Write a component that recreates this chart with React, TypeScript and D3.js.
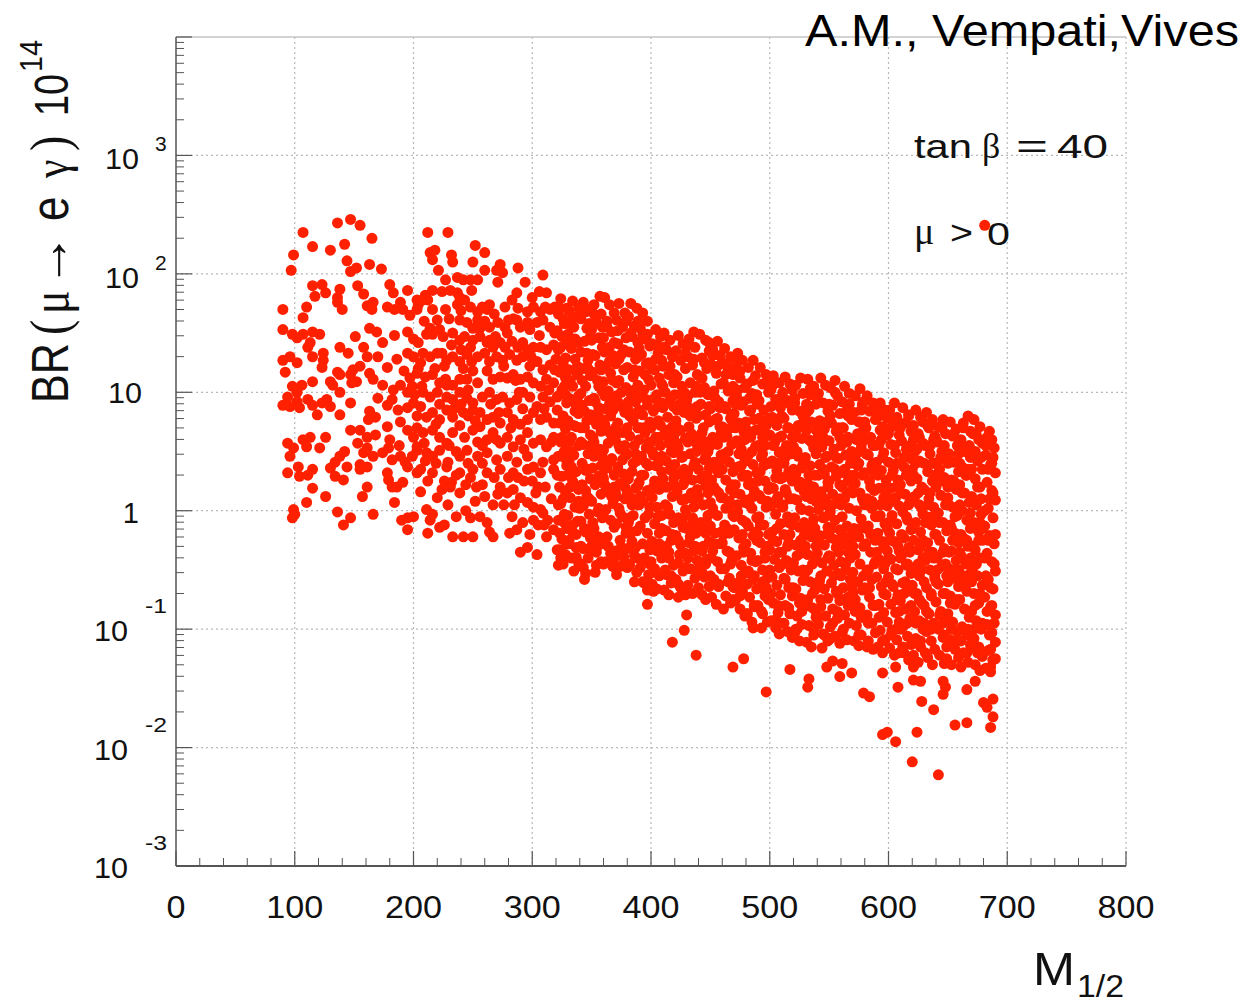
import React from "react";
import * as d3 from "d3";

type P = [number, number];

// x axis: M_1/2 ; y axis: BR(mu -> e gamma) x 10^14, log scale
// every point is stored as [M_1/2, exponent of BR (log10)]
const xTickValues = [0, 100, 200, 300, 400, 500, 600, 700, 800];
const yDecadeExps = [-3, -2, -1, 0, 1, 2, 3];

const ptsLeft: P[] = [
[136,2.43],[147,2.46],[155,2.41],[165,2.30],[107,2.35],[115,2.23],[130,2.20],[142,2.25],[99,2.16],[97,2.03],[144,2.11],[147,2.02],[152,2.05],[163,2.08],[173,2.04],[115,1.90],[123,1.91],[117,1.81],[126,1.84],[138,1.87],[136,1.80],[153,1.90],[158,1.83],[180,1.91],[183,1.84],[195,1.86],[203,1.78],[90,1.70],[110,1.72],[107,1.63],[136,1.76],[140,1.70],[161,1.73],[165,1.70],[166,1.76],[178,1.72],[184,1.70],[189,1.76],[191,1.70],[197,1.65],[203,1.70],[90,1.53],[98,1.49],[102,1.46],[107,1.49],[115,1.51],[121,1.49],[113,1.42],[111,1.38],[151,1.47],[163,1.54],[169,1.51],[174,1.42],[184,1.48],[195,1.51],[90,1.27],[96,1.30],[102,1.25],[92,1.17],[115,1.30],[124,1.33],[124,1.27],[138,1.38],[145,1.33],[158,1.38],[161,1.30],[155,1.22],[170,1.30],[178,1.21],[195,1.33],[200,1.30],[123,1.21],[136,1.17],[138,1.15],[147,1.15],[152,1.09],[149,1.19],[163,1.16],[166,1.11],[98,1.05],[102,1.00],[106,1.06],[94,0.96],[115,1.09],[130,1.09],[132,1.06],[138,1.00],[148,1.08],[174,1.06],[183,1.02],[189,1.06],[195,1.00],[199,1.05],[90,0.89],[96,0.88],[102,0.92],[104,0.87],[111,0.94],[115,0.89],[123,0.91],[127,0.94],[130,0.88],[119,0.81],[138,0.81],[147,0.91],[178,0.89],[182,0.94],[187,0.85],[195,0.87],[200,0.91],[163,0.84],[168,0.79],[189,0.75],[195,0.68],[200,0.62],[162,0.77],[147,0.68],[155,0.68],[161,0.62],[168,0.64],[178,0.71],[94,0.57],[99,0.53],[107,0.60],[113,0.62],[110,0.54],[121,0.53],[126,0.62],[138,0.46],[142,0.50],[134,0.41],[153,0.57],[158,0.49],[161,0.53],[155,0.39],[166,0.46],[174,0.49],[179,0.53],[182,0.43],[189,0.46],[193,0.41],[199,0.46],[203,0.54],[96,0.46],[94,0.32],[103,0.37],[104,0.29],[111,0.30],[115,0.35],[130,0.36],[134,0.29],[141,0.26],[144,0.37],[155,0.35],[161,0.37],[178,0.32],[179,0.26],[182,0.20],[186,0.20],[191,0.24],[195,0.37],[203,0.32],[115,0.19],[126,0.12],[157,0.12],[161,0.20],[184,0.07],[110,0.07],[99,0.01],[100,-0.03],[98,-0.06],[136,-0.01],[141,-0.12],[147,-0.06],[166,-0.03],[190,-0.08],[195,-0.06],[195,-0.16],[200,-0.05],
[186,1.28],[192,1.18],[197,1.12],[201,0.98],[204,1.20],[200,1.45],[203,0.80],[188,0.55],[180,0.60],[170,0.95]
];

const ptsMid: P[] = [
[212,2.35],[229,2.35],[214,2.18],[218,2.20],[216,2.12],[232,2.16],[233,2.10],[221,2.03],[252,2.24],[260,2.18],[250,2.10],[227,1.95],[237,1.97],[242,1.95],[248,1.95],[254,1.95],[260,2.03],[270,2.03],[273,2.08],[275,2.01],[288,2.05],[309,1.99],[271,1.93],[294,1.93],
[216,1.86],[224,1.85],[210,1.82],[212,1.78],[204,1.74],[208,1.78],[231,1.86],[237,1.84],[239,1.80],[243,1.78],[249,1.86],[227,1.70],[216,1.70],[220,1.61],[214,1.54],[211,1.49],[216,1.49],[222,1.53],[225,1.47],
[237,1.74],[240,1.69],[248,1.72],[254,1.68],[258,1.72],[262,1.70],[264,1.74],[239,1.61],[245,1.59],[254,1.61],[256,1.54],[264,1.55],[271,1.59],[277,1.55],[280,1.61],[287,1.84],[288,1.71],[296,1.68],[301,1.72],[307,1.68],[311,1.72],[315,1.70],[319,1.72],[287,1.61],[290,1.55],[296,1.59],[298,1.53],[304,1.59],[309,1.61],[315,1.55],[319,1.50],[312,1.84],
[233,1.50],[239,1.44],[243,1.47],[248,1.38],[250,1.44],[256,1.47],[262,1.42],[269,1.47],[273,1.42],[277,1.38],[283,1.43],[288,1.38],[292,1.42],[296,1.36],[301,1.38],[307,1.38],[312,1.36],[318,1.40],
[208,1.33],[214,1.30],[220,1.33],[224,1.33],[228,1.27],[233,1.30],[239,1.26],[245,1.32],[249,1.26],[254,1.30],[260,1.33],[264,1.26],[270,1.30],[275,1.27],[281,1.32],[287,1.27],[292,1.30],[298,1.22],[304,1.26],[309,1.19],[315,1.23],[319,1.19],
[203,1.16],[210,1.13],[216,1.15],[222,1.08],[227,1.11],[233,1.06],[239,1.11],[245,1.11],[254,1.08],[267,1.11],[273,1.13],[279,1.12],[284,1.15],[290,1.11],[296,1.13],[301,1.08],[307,1.05],[312,1.11],[318,1.08],
[208,1.00],[214,0.96],[220,1.00],[228,0.96],[233,0.94],[239,1.00],[245,0.95],[250,0.91],[264,1.00],[270,0.94],[275,0.96],[281,0.91],[287,0.94],[292,1.00],[298,0.96],[304,0.88],[309,0.96],[315,0.92],[321,0.96],
[206,0.88],[211,0.79],[216,0.83],[222,0.77],[228,0.85],[233,0.79],[242,0.83],[250,0.85],[256,0.83],[262,0.77],[267,0.79],[273,0.74],[279,0.83],[284,0.77],[290,0.73],[296,0.77],[301,0.83],[307,0.77],[312,0.79],[318,0.74],
[203,0.70],[208,0.66],[216,0.68],[222,0.62],[228,0.57],[233,0.66],[250,0.68],[256,0.71],[262,0.60],[267,0.66],[273,0.57],[279,0.62],[284,0.54],[290,0.60],[296,0.66],[301,0.57],[307,0.60],[312,0.54],[318,0.62],
[203,0.51],[211,0.49],[216,0.46],[222,0.51],[239,0.46],[245,0.51],[254,0.46],[262,0.49],[270,0.43],[279,0.46],[287,0.41],[296,0.46],[301,0.37],[309,0.41],[318,0.43],
[206,0.35],[216,0.32],[228,0.37],[239,0.32],[250,0.35],[262,0.32],[273,0.35],[284,0.32],[296,0.35],[307,0.32],[318,0.35],
[206,0.16],[211,0.01],[214,-0.08],[216,-0.03],[222,-0.14],[226,-0.12],[212,-0.19],[220,0.11],[224,0.18],[232,0.24],[239,0.15],[233,-0.22],[242,-0.22],[250,-0.22],[248,-0.06],[256,-0.05],[262,-0.10],[264,-0.18],[267,-0.22],[267,0.05],[273,0.20],[279,0.15],[284,0.18],[290,0.11],[296,0.07],[301,0.03],[307,0.01],[281,-0.19],[287,-0.16],[290,-0.35],[296,-0.31],[304,-0.37],[312,-0.22],[318,-0.16],[321,-0.33],[322,-0.46],[301,-0.08],[309,-0.02],
[229,0.41],[236,0.50],[246,0.40],[258,0.22],[252,0.08],[244,0.00],[236,-0.05],[229,0.05],[268,0.28],[276,0.05],[283,-0.05],[292,-0.10],[298,-0.20],[305,-0.12],[313,-0.08],[316,0.10],[311,0.20],[305,0.20],[300,0.25],[293,0.25],[288,0.28],[280,0.28],[271,0.14],[260,0.12],[253,0.20],[244,0.22],[236,0.30],[226,0.25],[212,0.25],[210,0.42],[230,0.55],[243,0.62],[239,0.72],[246,0.80],[240,0.90],[258,0.96],[254,0.58],[242,1.20],[250,1.18],[262,1.18],[267,1.38],[279,1.50],[284,1.62],[300,1.80],[306,1.85],[283,1.78],[277,1.72],[268,1.66],[260,1.60],[250,1.54],[230,1.62],[226,1.22],[218,1.20],[206,1.25],[204,1.42],[209,1.60],[232,1.40],[228,1.06],[222,0.90],[209,0.57],
[207,1.05],[219,0.73],[231,0.20],[240,1.36],[252,0.76],[258,0.40],[265,0.90],[270,0.60],[276,1.22],[282,0.70],[289,1.00],[293,0.52],[299,1.30],[303,0.15],[310,0.86],[316,0.58],[320,1.28],[234,0.86],[246,1.02],[264,1.44],[272,0.83],[286,1.10],[306,1.48],[314,1.02],[219,0.40],[248,0.28],[258,0.55],[292,0.86],[310,-0.12],[285,0.05]
];

const ptsDenseA: P[] = [
[324,1.79],[329,1.71],[322,1.66],[327,1.58],[325,1.47],[329,1.41],[322,1.36],[326,1.24],[323,1.17],[328,1.12],[325,1.02],[322,0.97],[329,0.91],[326,0.80],[323,0.74],[328,0.69],[324,0.58],[327,0.50],[322,0.46],[329,0.38],[325,0.29],[323,0.20],[328,0.16],[324,0.06],[327,-0.03],[322,-0.08],[329,-0.15],[325,-0.24],[323,-0.33],[328,-0.37],[326,-0.45],
[334,1.77],[331,1.69],[338,1.64],[335,1.55],[330,1.49],[339,1.42],[333,1.37],[336,1.28],[331,1.19],[338,1.15],[334,1.05],[339,0.97],[332,0.93],[336,0.84],[330,0.76],[337,0.71],[333,0.62],[339,0.55],[335,0.47],[331,0.42],[337,0.33],[334,0.25],[339,0.18],[332,0.11],[336,0.03],[330,-0.04],[338,-0.09],[334,-0.18],[331,-0.25],[337,-0.31],[333,-0.40],[339,-0.44],[335,-0.51],
[343,1.76],[348,1.70],[341,1.62],[346,1.54],[349,1.47],[344,1.43],[341,1.34],[347,1.27],[343,1.20],[349,1.14],[345,1.05],[341,0.99],[348,0.93],[344,0.84],[346,0.76],[341,0.70],[349,0.64],[343,0.56],[347,0.48],[342,0.40],[345,0.34],[349,0.27],[341,0.21],[346,0.12],[343,0.04],[348,-0.03],[341,-0.09],[345,-0.18],[349,-0.23],[343,-0.32],[347,-0.40],[341,-0.45],[345,-0.53],[344,-0.58],
[357,1.81],[352,1.74],[358,1.66],[354,1.59],[350,1.53],[356,1.46],[359,1.38],[353,1.31],[357,1.23],[351,1.17],[355,1.10],[359,1.01],[352,0.95],[356,0.87],[350,0.80],[354,0.73],[358,0.67],[352,0.58],[355,0.50],[359,0.45],[351,0.36],[356,0.29],[353,0.22],[358,0.14],[350,0.08],[355,-0.01],[359,-0.06],[352,-0.15],[356,-0.22],[350,-0.30],[354,-0.35],[358,-0.43],[353,-0.52],
[361,1.80],[365,1.74],[369,1.67],[363,1.60],[367,1.51],[360,1.46],[365,1.38],[368,1.31],[362,1.22],[366,1.16],[360,1.09],[364,1.01],[369,0.95],[362,0.86],[366,0.80],[361,0.73],[368,0.66],[364,0.57],[360,0.51],[367,0.44],[363,0.36],[369,0.30],[361,0.22],[365,0.15],[368,0.06],[362,0.01],[366,-0.08],[369,-0.14],[363,-0.22],[360,-0.28],[366,-0.36],[362,-0.43],[368,-0.47],
[373,1.75],[378,1.67],[371,1.61],[376,1.55],[379,1.46],[372,1.41],[375,1.32],[370,1.24],[377,1.19],[373,1.10],[379,1.04],[371,0.97],[375,0.88],[378,0.83],[372,0.74],[376,0.66],[370,0.60],[374,0.52],[379,0.47],[372,0.37],[377,0.31],[374,0.23],[370,0.16],[378,0.10],[373,0.02],[376,-0.05],[371,-0.11],[379,-0.19],[374,-0.25],[370,-0.34],[377,-0.39],[368,-0.47],[374,-0.47],[380,-0.48],[371,-0.54],
[383,1.75],[388,1.71],[381,1.64],[386,1.56],[384,1.47],[389,1.42],[382,1.34],[387,1.28],[380,1.21],[385,1.13],[389,1.06],[383,0.99],[387,0.92],[381,0.85],[385,0.76],[389,0.70],[382,0.63],[386,0.55],[380,0.48],[388,0.42],[384,0.33],[381,0.27],[387,0.19],[383,0.11],[389,0.05],[385,-0.04],[381,-0.10],[388,-0.17],[384,-0.26],[380,-0.32],[386,-0.38],[382,-0.46],[388,-0.52],[386,-0.60],
[393,1.67],[397,1.60],[391,1.54],[395,1.45],[399,1.39],[392,1.32],[396,1.24],[390,1.18],[398,1.11],[394,1.02],[391,0.96],[397,0.89],[393,0.81],[399,0.75],[395,0.66],[390,0.60],[396,0.53],[392,0.46],[398,0.38],[394,0.30],[390,0.24],[397,0.17],[393,0.08],[399,0.03],[395,-0.06],[391,-0.13],[397,-0.19],[393,-0.28],[399,-0.33],[395,-0.41],[391,-0.48],[398,-0.54],[394,-0.61],[397,-0.67],[402,-0.68],[397,-0.79],
[404,1.53],[408,1.47],[401,1.41],[406,1.33],[409,1.27],[403,1.19],[407,1.12],[400,1.06],[405,0.98],[409,0.91],[402,0.84],[406,0.76],[400,0.70],[404,0.62],[408,0.55],[402,0.47],[406,0.40],[409,0.33],[403,0.25],[407,0.18],[401,0.11],[405,0.03],[409,-0.04],[403,-0.11],[407,-0.19],[401,-0.26],[405,-0.34],[409,-0.40],[403,-0.49],[407,-0.55],[401,-0.62],[405,-0.66],
[411,1.50],[416,1.44],[413,1.36],[418,1.30],[410,1.22],[415,1.15],[419,1.08],[412,1.00],[416,0.93],[410,0.87],[414,0.79],[418,0.71],[411,0.64],[415,0.57],[419,0.49],[413,0.42],[417,0.34],[410,0.27],[414,0.20],[418,0.12],[412,0.05],[416,-0.03],[419,-0.10],[413,-0.17],[417,-0.25],[411,-0.32],[415,-0.40],[419,-0.46],[413,-0.54],[417,-0.61],[411,-0.67],[415,-0.71],
[423,1.48],[427,1.41],[421,1.35],[425,1.27],[429,1.20],[422,1.13],[426,1.05],[420,0.98],[424,0.90],[428,0.83],[421,0.76],[425,0.68],[429,0.61],[423,0.53],[427,0.46],[420,0.39],[424,0.31],[428,0.24],[422,0.16],[426,0.09],[429,0.01],[423,-0.06],[427,-0.14],[421,-0.21],[425,-0.29],[429,-0.36],[423,-0.44],[427,-0.51],[421,-0.58],[425,-0.65],[429,-0.71],[423,-0.73],
[436,1.51],[432,1.45],[437,1.38],[431,1.30],[435,1.23],[439,1.15],[433,1.08],[437,1.00],[430,0.93],[434,0.86],[438,0.78],[432,0.71],[436,0.63],[439,0.56],[433,0.48],[437,0.41],[431,0.33],[435,0.26],[439,0.18],[432,0.11],[436,0.03],[430,-0.04],[434,-0.12],[438,-0.19],[432,-0.27],[436,-0.34],[439,-0.42],[433,-0.49],[437,-0.57],[431,-0.63],[435,-0.70],
[441,1.49],[446,1.44],[449,1.35],[443,1.29],[447,1.20],[440,1.14],[445,1.04],[448,0.98],[442,0.90],[446,0.81],[449,0.75],[443,0.66],[447,0.58],[441,0.52],[445,0.43],[449,0.36],[442,0.27],[446,0.21],[440,0.12],[444,0.05],[448,-0.04],[442,-0.10],[446,-0.19],[449,-0.26],[443,-0.34],[447,-0.41],[441,-0.50],[445,-0.56],[449,-0.64],[443,-0.71],[446,-0.75]
];

const ptsDenseB: P[] = [
[456,1.43],[452,1.36],[458,1.31],[451,1.23],[455,1.16],[459,1.07],[453,1.01],[457,0.92],[450,0.86],[454,0.77],[458,0.71],[452,0.62],[456,0.56],[459,0.47],[453,0.41],[457,0.32],[451,0.26],[455,0.17],[459,0.11],[452,0.02],[456,-0.04],[450,-0.13],[454,-0.19],[458,-0.28],[452,-0.34],[456,-0.43],[459,-0.49],[453,-0.58],[457,-0.64],[451,-0.73],[455,-0.79],
[462,1.37],[467,1.30],[464,1.22],[469,1.15],[461,1.08],[465,1.01],[469,0.93],[463,0.86],[467,0.78],[460,0.71],[464,0.63],[468,0.56],[462,0.48],[466,0.41],[469,0.33],[463,0.26],[467,0.18],[461,0.11],[465,0.03],[469,-0.04],[462,-0.12],[466,-0.19],[460,-0.27],[464,-0.34],[468,-0.42],[462,-0.49],[466,-0.57],[469,-0.64],[463,-0.72],[467,-0.78],[461,-0.83],
[473,1.33],[477,1.27],[471,1.19],[475,1.12],[479,1.04],[472,0.97],[476,0.89],[470,0.82],[474,0.74],[478,0.67],[472,0.59],[476,0.52],[479,0.44],[473,0.37],[477,0.29],[471,0.22],[475,0.14],[479,0.07],[473,-0.01],[477,-0.08],[470,-0.16],[474,-0.23],[478,-0.31],[472,-0.38],[476,-0.46],[479,-0.53],[473,-0.61],[477,-0.68],[471,-0.76],[475,-0.83],[479,-0.89],
[486,1.27],[482,1.21],[488,1.14],[481,1.07],[485,0.99],[489,0.92],[483,0.84],[487,0.77],[480,0.69],[484,0.62],[488,0.54],[482,0.47],[486,0.39],[489,0.32],[483,0.24],[487,0.17],[481,0.09],[485,0.02],[489,-0.06],[482,-0.13],[486,-0.21],[480,-0.28],[484,-0.36],[488,-0.43],[482,-0.51],[486,-0.58],[489,-0.66],[483,-0.73],[487,-0.81],[481,-0.87],[485,-0.94],
[492,1.21],[497,1.15],[494,1.07],[499,1.00],[491,0.93],[495,0.85],[499,0.78],[493,0.70],[497,0.63],[490,0.55],[494,0.48],[498,0.40],[492,0.33],[496,0.25],[499,0.18],[493,0.10],[497,0.03],[491,-0.05],[495,-0.12],[499,-0.20],[492,-0.27],[496,-0.35],[490,-0.42],[494,-0.50],[498,-0.57],[492,-0.65],[496,-0.72],[490,-0.80],[494,-0.87],[498,-0.94],[493,-0.99],
[503,1.14],[508,1.08],[501,1.02],[505,0.94],[509,0.87],[502,0.79],[506,0.72],[500,0.64],[504,0.57],[508,0.49],[502,0.42],[506,0.34],[509,0.27],[503,0.19],[507,0.12],[501,0.04],[505,-0.03],[509,-0.11],[502,-0.18],[506,-0.26],[500,-0.33],[504,-0.41],[508,-0.48],[502,-0.56],[506,-0.63],[509,-0.71],[503,-0.78],[507,-0.86],[501,-0.93],[505,-0.99],[508,-1.04],
[513,1.13],[517,1.07],[511,1.00],[515,0.93],[519,0.85],[512,0.78],[516,0.70],[510,0.63],[514,0.55],[518,0.48],[512,0.40],[516,0.33],[519,0.25],[513,0.18],[517,0.10],[511,0.03],[515,-0.05],[519,-0.12],[512,-0.20],[516,-0.27],[510,-0.35],[514,-0.42],[518,-0.50],[512,-0.57],[516,-0.65],[519,-0.72],[513,-0.80],[517,-0.87],[511,-0.95],[515,-1.02],[519,-1.07],
[526,1.12],[522,1.06],[528,0.99],[521,0.91],[525,0.84],[529,0.76],[523,0.69],[527,0.61],[520,0.54],[524,0.46],[528,0.39],[522,0.31],[526,0.24],[529,0.16],[523,0.09],[527,0.01],[521,-0.06],[525,-0.14],[529,-0.21],[522,-0.29],[526,-0.36],[520,-0.44],[524,-0.51],[528,-0.59],[522,-0.66],[526,-0.74],[529,-0.81],[523,-0.89],[527,-0.96],[521,-1.03],[525,-1.10],
[532,1.11],[537,1.05],[534,0.98],[539,0.90],[531,0.83],[535,0.75],[539,0.68],[533,0.60],[537,0.53],[530,0.45],[534,0.38],[538,0.30],[532,0.23],[536,0.15],[539,0.08],[533,0.00],[537,-0.07],[531,-0.15],[535,-0.22],[539,-0.30],[532,-0.37],[536,-0.45],[530,-0.52],[534,-0.60],[538,-0.67],[532,-0.75],[536,-0.82],[539,-0.90],[533,-0.97],[537,-1.05],[531,-1.11],[535,-1.15],
[543,1.12],[547,1.06],[541,0.99],[545,0.91],[549,0.84],[542,0.76],[546,0.69],[540,0.61],[544,0.54],[548,0.46],[542,0.39],[546,0.31],[549,0.24],[543,0.16],[547,0.09],[541,0.01],[545,-0.06],[549,-0.14],[542,-0.21],[546,-0.29],[540,-0.36],[544,-0.44],[548,-0.51],[542,-0.59],[546,-0.66],[549,-0.74],[543,-0.81],[547,-0.89],[541,-0.96],[545,-1.04],[549,-1.10],[544,-1.16],
[555,1.10],[551,1.04],[557,0.97],[553,0.89],[559,0.82],[552,0.74],[556,0.67],[550,0.59],[554,0.52],[558,0.44],[552,0.37],[556,0.29],[559,0.22],[553,0.14],[557,0.07],[551,-0.01],[555,-0.08],[559,-0.16],[552,-0.23],[556,-0.31],[550,-0.38],[554,-0.46],[558,-0.53],[552,-0.61],[556,-0.68],[559,-0.76],[553,-0.83],[557,-0.91],[551,-0.98],[555,-1.06],[559,-1.12]
];

const ptsDenseC: P[] = [
[563,1.05],[567,0.99],[561,0.92],[565,0.85],[569,0.77],[562,0.70],[566,0.62],[560,0.55],[564,0.47],[568,0.40],[562,0.32],[566,0.25],[569,0.17],[563,0.10],[567,0.02],[561,-0.05],[565,-0.13],[569,-0.20],[562,-0.28],[566,-0.35],[560,-0.43],[564,-0.50],[568,-0.58],[562,-0.65],[566,-0.73],[569,-0.80],[563,-0.88],[567,-0.95],[561,-1.03],[565,-1.09],
[576,1.03],[572,0.97],[578,0.90],[571,0.83],[575,0.75],[579,0.68],[573,0.60],[577,0.53],[570,0.45],[574,0.38],[578,0.30],[572,0.23],[576,0.15],[579,0.08],[573,0.00],[577,-0.07],[571,-0.15],[575,-0.22],[579,-0.30],[572,-0.37],[576,-0.45],[570,-0.52],[574,-0.60],[578,-0.67],[572,-0.75],[576,-0.82],[579,-0.90],[573,-0.97],[577,-1.05],[571,-1.10],[575,-1.14],
[582,0.97],[587,0.91],[584,0.84],[589,0.77],[581,0.70],[585,0.62],[589,0.55],[583,0.47],[587,0.40],[580,0.32],[584,0.25],[588,0.17],[582,0.10],[586,0.02],[589,-0.05],[583,-0.13],[587,-0.20],[581,-0.28],[585,-0.35],[589,-0.43],[582,-0.50],[586,-0.58],[580,-0.65],[584,-0.73],[588,-0.80],[582,-0.88],[586,-0.95],[589,-1.03],[583,-1.10],[587,-1.17],
[593,0.91],[597,0.85],[591,0.79],[595,0.71],[599,0.64],[592,0.56],[596,0.49],[590,0.41],[594,0.34],[598,0.26],[592,0.19],[596,0.11],[599,0.04],[593,-0.04],[597,-0.11],[591,-0.19],[595,-0.26],[599,-0.34],[592,-0.41],[596,-0.49],[590,-0.56],[594,-0.64],[598,-0.71],[592,-0.79],[596,-0.86],[599,-0.94],[593,-1.01],[597,-1.09],[591,-1.15],[595,-1.20],
[605,0.91],[601,0.85],[607,0.79],[603,0.71],[609,0.64],[602,0.56],[606,0.49],[600,0.41],[604,0.34],[608,0.26],[602,0.19],[606,0.11],[609,0.04],[603,-0.04],[607,-0.11],[601,-0.19],[605,-0.26],[609,-0.34],[602,-0.41],[606,-0.49],[600,-0.56],[604,-0.64],[608,-0.71],[602,-0.79],[606,-0.86],[609,-0.94],[603,-1.01],[607,-1.09],[601,-1.16],[605,-1.22],
[612,0.87],[617,0.81],[614,0.74],[619,0.67],[611,0.59],[615,0.52],[619,0.44],[613,0.37],[617,0.29],[610,0.22],[614,0.14],[618,0.07],[612,-0.01],[616,-0.08],[619,-0.16],[613,-0.23],[617,-0.31],[611,-0.38],[615,-0.46],[619,-0.53],[612,-0.61],[616,-0.68],[610,-0.76],[614,-0.83],[618,-0.91],[612,-0.98],[616,-1.06],[619,-1.13],[613,-1.20],[617,-1.26],
[623,0.85],[627,0.79],[621,0.72],[625,0.65],[629,0.57],[622,0.50],[626,0.42],[620,0.35],[624,0.27],[628,0.20],[622,0.12],[626,0.05],[629,-0.03],[623,-0.10],[627,-0.18],[621,-0.25],[625,-0.33],[629,-0.40],[622,-0.48],[626,-0.55],[620,-0.63],[624,-0.70],[628,-0.78],[622,-0.85],[626,-0.93],[629,-1.00],[623,-1.08],[627,-1.15],[621,-1.22],[625,-1.28],
[632,0.83],[637,0.77],[634,0.70],[639,0.63],[631,0.55],[635,0.48],[639,0.40],[633,0.33],[637,0.25],[630,0.18],[634,0.10],[638,0.03],[632,-0.05],[636,-0.12],[639,-0.20],[633,-0.27],[637,-0.35],[631,-0.42],[635,-0.50],[639,-0.57],[632,-0.65],[636,-0.72],[630,-0.80],[634,-0.87],[638,-0.95],[632,-1.02],[636,-1.10],[639,-1.17],[633,-1.24],[637,-1.30],
[646,0.77],[642,0.71],[648,0.65],[641,0.58],[645,0.50],[649,0.43],[643,0.35],[647,0.28],[640,0.20],[644,0.13],[648,0.05],[642,-0.02],[646,-0.10],[649,-0.17],[643,-0.25],[647,-0.32],[641,-0.40],[645,-0.47],[649,-0.55],[642,-0.62],[646,-0.70],[640,-0.77],[644,-0.85],[648,-0.92],[642,-1.00],[646,-1.07],[649,-1.15],[643,-1.22],[647,-1.29],
[652,0.75],[657,0.69],[654,0.63],[659,0.56],[651,0.48],[655,0.41],[659,0.33],[653,0.26],[657,0.18],[650,0.11],[654,0.03],[658,-0.04],[652,-0.12],[656,-0.19],[659,-0.27],[653,-0.34],[657,-0.42],[651,-0.49],[655,-0.57],[659,-0.64],[652,-0.72],[656,-0.79],[650,-0.87],[654,-0.94],[658,-1.02],[652,-1.09],[656,-1.17],[659,-1.24],[653,-1.30],
[667,0.80],[663,0.74],[669,0.67],[661,0.60],[665,0.52],[669,0.45],[662,0.37],[666,0.30],[660,0.22],[664,0.15],[668,0.07],[662,0.00],[666,-0.08],[669,-0.15],[663,-0.23],[667,-0.30],[661,-0.38],[665,-0.45],[669,-0.53],[662,-0.60],[666,-0.68],[660,-0.75],[664,-0.83],[668,-0.90],[662,-0.98],[666,-1.05],[669,-1.13],[663,-1.20],[667,-1.28],[661,-1.32],
[672,0.77],[677,0.71],[674,0.64],[679,0.57],[671,0.50],[675,0.42],[679,0.35],[673,0.27],[677,0.20],[670,0.12],[674,0.05],[678,-0.03],[672,-0.10],[676,-0.18],[679,-0.25],[673,-0.33],[677,-0.40],[671,-0.48],[675,-0.55],[679,-0.63],[672,-0.70],[676,-0.78],[670,-0.85],[674,-0.93],[678,-1.00],[672,-1.08],[676,-1.15],[679,-1.23],[673,-1.30],[677,-1.35],
[685,0.67],[687,0.60],[689,0.53],[682,0.47],[686,0.39],[690,0.32],[683,0.24],[687,0.17],[690,0.09],[684,0.02],[688,-0.06],[681,-0.13],[685,-0.21],[689,-0.28],[683,-0.36],[687,-0.43],[690,-0.51],[684,-0.58],[688,-0.66],[681,-0.73],[686,-0.81],[690,-0.88],[683,-0.96],[687,-1.03],[690,-1.11],[684,-1.18],[688,-1.26],[682,-1.33],[686,-1.36]
];

const ptsFill: P[] = [
[321,1.52],[327,1.05],[330,0.30],[323,-0.19],[328,1.29],[325,0.62],[321,0.85],[329,-0.28],[326,0.10],[322,1.72],[328,0.44],[324,-0.40],
[331,0.58],[338,1.22],[334,-0.12],[336,0.91],[330,1.58],[339,0.08],[333,0.37],[337,-0.39],[332,1.10],[335,0.72],[339,1.71],[331,-0.28],
[347,0.35],[342,1.10],[349,0.81],[344,-0.15],[341,0.58],[348,1.58],[345,0.17],[343,-0.48],[346,1.33],[340,0.02],[349,-0.33],[342,0.89],
[351,0.62],[358,1.19],[355,-0.30],[353,0.92],[359,0.30],[350,1.44],[356,0.02],[352,1.66],[357,0.52],[354,-0.46],[359,0.77],[351,-0.10],
[368,0.85],[362,0.40],[365,1.26],[360,-0.05],[367,0.12],[363,1.55],[369,-0.40],[361,0.97],[366,0.65],[364,-0.30],[369,1.42],[360,0.27],
[376,0.43],[371,1.08],[379,0.89],[374,-0.02],[372,1.52],[378,0.20],[370,0.70],[375,-0.31],[377,1.36],[373,0.55],[379,-0.14],[371,0.32],
[385,0.40],[381,0.92],[389,0.21],[383,1.50],[387,-0.31],[380,0.70],[386,1.19],[382,-0.06],[388,0.82],[384,0.05],[389,1.60],[381,-0.45],
[394,0.70],[390,1.37],[398,-0.03],[392,0.30],[396,0.94],[399,-0.45],[391,0.12],[395,1.15],[398,0.58],[393,-0.60],[397,1.49],[390,0.85],
[402,0.20],[408,0.72],[405,1.40],[400,-0.43],[406,-0.05],[403,0.95],[409,0.46],[401,1.20],[407,-0.28],[404,0.38],[409,1.07],[400,0.58],
[413,0.68],[418,-0.20],[410,0.43],[416,1.22],[412,-0.50],[419,0.88],[414,0.03],[411,1.38],[417,0.50],[415,-0.35],[419,0.27],[410,1.05],
[421,0.20],[427,0.85],[424,-0.37],[429,1.33],[422,0.57],[426,-0.10],[420,1.15],[428,0.35],[423,-0.62],[425,0.98],[429,0.10],[421,0.72],
[438,0.50],[433,-0.22],[431,0.97],[436,1.28],[430,0.30],[439,-0.50],[434,0.65],[437,0.10],[432,1.40],[435,-0.06],[439,0.88],[431,-0.40],
[442,0.60],[447,-0.10],[445,1.25],[440,0.35],[449,0.88],[443,-0.52],[446,0.45],[441,1.00],[448,0.15],[444,-0.30],[449,1.42],[440,-0.65],
[453,0.20],[458,0.87],[451,-0.40],[456,1.22],[450,0.55],[459,-0.18],[454,0.95],[457,-0.62],[452,1.31],[455,0.35],[459,0.65],[450,0.07],
[461,0.45],[466,-0.35],[469,1.05],[463,0.02],[467,0.70],[460,1.25],[465,-0.60],[462,0.88],[468,0.22],[464,-0.15],[469,-0.75],[461,0.62],
[474,0.48],[470,-0.05],[478,0.92],[472,1.25],[476,-0.55],[479,0.30],[471,0.70],[477,-0.20],[473,1.02],[475,-0.72],[479,0.60],[470,0.15],
[483,0.05],[488,0.68],[481,-0.62],[486,1.10],[480,0.42],[489,-0.25],[484,0.85],[487,-0.80],[482,0.22],[485,-0.42],[489,0.98],[480,-0.10],
[495,0.38],[490,0.90],[498,-0.30],[493,-0.85],[497,0.72],[491,0.13],[499,1.08],[494,-0.60],[496,0.55],[492,-0.12],[499,-0.75],[490,0.25],
[504,0.75],[500,0.20],[508,-0.35],[502,1.05],[507,0.40],[501,-0.70],[509,0.05],[505,-0.92],[503,0.55],[506,-0.15],[509,0.95],[500,-0.50],
[514,0.15],[519,0.62],[511,-0.45],[517,0.90],[512,-0.95],[516,-0.10],[510,0.80],[518,-0.65],[513,0.45],[515,-0.30],[519,1.02],[511,0.28],
[524,0.72],[520,0.10],[528,-0.50],[522,-1.00],[527,0.36],[521,0.95],[529,-0.10],[525,-0.78],[523,0.50],[526,-0.25],[529,0.85],[520,-0.65],
[533,0.30],[538,-0.15],[531,0.68],[536,-0.70],[530,-0.30],[539,0.48],[534,1.03],[537,-1.00],[532,-0.50],[535,0.10],[539,-0.85],[531,0.90],
[545,0.35],[541,-0.25],[548,0.75],[543,-0.75],[547,-0.05],[540,0.95],[549,-0.40],[544,0.12],[546,-1.05],[542,0.55],[549,0.20],[541,-0.60],
[556,0.45],[551,0.80],[558,-0.35],[553,-0.95],[559,0.10],[552,-0.15],[557,-0.70],[550,0.25],[555,1.00],[554,-0.55],[559,0.62],[551,-1.08],
[563,0.35],[568,-0.25],[561,0.70],[566,-0.80],[560,0.05],[569,0.50],[564,-0.45],[567,0.90],[562,-1.00],[565,0.15],[569,-0.65],[561,-0.20],
[574,0.65],[570,-0.30],[578,0.10],[572,-0.85],[577,0.85],[571,0.30],[579,-0.55],[575,-1.05],[573,0.48],[576,-0.15],[579,0.92],[570,-0.70],
[585,0.20],[580,0.75],[588,-0.45],[583,-0.95],[587,0.55],[581,-0.15],[589,0.85],[584,-0.65],[586,0.38],[582,-1.15],[589,-0.25],[580,0.05],
[594,0.60],[590,-0.35],[598,0.15],[592,-0.90],[597,-0.45],[591,0.30],[599,0.78],[595,-1.10],[593,0.05],[596,-0.70],[599,-0.15],[590,0.85],
[604,0.08],[600,0.65],[608,-0.50],[602,-1.05],[607,0.40],[601,-0.25],[609,-0.85],[605,0.75],[603,-0.62],[606,0.20],[609,-1.20],[600,-0.10],
[613,0.45],[618,-0.35],[611,0.15],[616,-0.95],[610,0.70],[619,0.25],[614,-0.60],[617,0.80],[612,-1.15],[615,-0.05],[619,-0.80],[610,-0.40],
[624,0.52],[620,-0.15],[628,0.02],[622,-0.70],[627,-1.10],[621,0.30],[629,0.75],[625,-0.45],[623,-0.95],[626,0.62],[629,-0.25],[620,0.10],
[634,-0.35],[630,0.40],[638,0.60],[632,-0.85],[637,-0.05],[631,-1.20],[639,-0.55],[635,0.15],[633,0.72],[636,-1.00],[639,0.30],[630,-0.60],
[644,0.45],[640,-0.20],[648,-0.70],[642,0.25],[647,-1.05],[641,-0.50],[649,0.10],[645,0.70],[643,-0.88],[646,-0.35],[649,-1.25],[640,0.60],
[654,-0.25],[650,0.40],[658,0.20],[652,-0.78],[657,-1.10],[651,0.05],[659,-0.50],[655,0.65],[653,-1.00],[656,-0.05],[659,0.48],[650,-0.60],
[664,0.50],[660,-0.35],[668,-0.85],[662,0.15],[667,0.35],[661,-1.10],[669,-0.02],[665,-0.62],[663,0.70],[666,-1.20],[669,-0.40],[660,0.05],
[674,-0.45],[670,0.35],[678,0.10],[672,-1.00],[677,-0.70],[671,0.65],[679,-0.15],[675,-1.20],[673,0.50],[676,-0.25],[679,-0.95],[670,-0.60],
[684,0.35],[681,-0.40],[688,0.15],[683,-0.85],[689,-0.45],[682,0.55],[690,-0.20],[685,-1.05],[687,0.40],[686,-0.65],[690,-1.25],[681,0.00]
];

const ptsFill2: P[] = [
[326,1.62],[321,0.30],[329,0.55],[324,1.38],[327,-0.10],[322,0.05],[328,0.98],
[336,1.45],[332,0.20],[339,0.82],[334,1.62],[331,0.95],[337,-0.20],[333,0.50],
[345,1.68],[349,0.55],[342,0.22],[347,1.20],[344,0.70],[341,-0.30],[348,0.10],
[355,0.82],[351,1.32],[358,0.38],[353,-0.25],[359,1.55],[352,0.46],[356,1.05],
[366,0.42],[361,1.34],[368,1.10],[363,0.68],[369,0.20],[360,-0.45],[365,0.90],
[375,1.00],[378,0.55],[371,0.12],[377,-0.45],[373,1.28],[379,1.60],[372,0.92],
[387,0.48],[382,0.80],[389,1.30],[384,-0.18],[386,1.02],[380,0.15],[388,-0.40],
[396,0.40],[391,0.70],[398,1.25],[393,1.48],[399,0.15],[394,-0.40],[390,0.05],
[406,0.88],[401,0.50],[408,0.25],[404,1.28],[409,-0.15],[402,-0.52],[407,0.62],
[416,0.35],[411,0.90],[418,1.14],[413,-0.30],[419,0.62],[412,0.20],[417,-0.55],
[426,0.45],[420,0.65],[428,1.00],[423,-0.25],[429,-0.48],[422,0.85],[427,0.22],
[434,0.15],[431,0.58],[438,1.05],[433,0.80],[437,-0.30],[430,-0.15],[436,0.38],
[444,0.70],[441,-0.15],[448,0.50],[443,1.12],[447,0.30],[440,0.80],[446,-0.45],
[455,0.60],[451,0.98],[458,0.42],[453,-0.28],[457,0.15],[450,-0.55],[456,0.78],
[465,0.50],[461,-0.20],[468,0.80],[463,1.15],[467,-0.45],[460,0.35],[466,0.08],
[476,0.38],[471,0.90],[478,-0.35],[473,0.05],[477,0.60],[470,-0.65],[475,1.18],
[485,0.50],[481,0.30],[488,-0.18],[483,0.95],[487,-0.55],[480,0.75],[486,0.12],
[494,0.62],[490,-0.20],[498,0.08],[493,0.45],[497,-0.65],[491,0.78],[496,-0.40],
[505,0.28],[501,0.88],[508,0.62],[503,-0.25],[507,-0.80],[500,0.40],[506,0.10],
[515,0.70],[511,0.05],[518,0.30],[513,-0.58],[517,-0.20],[510,0.50],[516,-0.82],
[525,0.20],[521,0.62],[528,0.80],[523,-0.38],[527,-0.85],[520,0.35],[526,0.02],
[535,0.58],[531,0.12],[538,-0.40],[533,0.85],[537,0.20],[530,-0.80],[536,-0.12],
[545,0.62],[541,0.30],[548,-0.20],[543,-0.55],[547,0.45],[540,-0.90],[546,0.05],
[555,0.35],[551,-0.40],[558,0.70],[553,0.05],[557,-0.85],[550,0.90],[556,-0.25],
[565,0.58],[561,0.20],[568,-0.40],[563,-0.75],[567,0.30],[560,-0.55],[566,0.80],
[575,0.40],[571,-0.60],[578,0.58],[573,-0.20],[577,-0.90],[570,0.15],[576,0.75],
[585,-0.20],[581,0.48],[588,0.32],[583,-0.50],[587,-0.80],[580,0.60],[586,0.08],
[595,0.45],[591,-0.05],[598,-0.60],[593,0.68],[597,0.20],[590,-0.80],[596,-0.30],
[605,0.55],[601,0.10],[608,-0.30],[603,0.30],[607,-0.75],[600,-0.40],[606,-1.00],
[615,0.30],[611,-0.20],[618,0.55],[613,-0.70],[617,0.05],[610,-1.00],[616,-0.45],
[625,0.15],[621,0.60],[628,-0.50],[623,0.40],[627,-0.30],[620,-0.90],[626,-0.75],
[635,0.55],[631,-0.10],[638,-0.40],[633,0.05],[637,0.40],[630,-0.95],[636,-0.70],
[645,0.25],[641,0.40],[648,-0.45],[643,-0.10],[647,0.55],[640,-0.60],[646,-0.95],
[655,0.25],[651,-0.35],[658,0.55],[653,-0.15],[657,-0.75],[650,0.20],[656,-0.50],
[665,0.30],[661,-0.20],[668,0.55],[663,-0.55],[667,-1.00],[660,0.40],[666,-0.25],
[675,0.20],[671,-0.30],[678,0.45],[673,-0.80],[677,-0.10],[670,-1.15],[676,0.60],
[685,0.10],[682,-0.55],[688,0.45],[684,-0.25],[689,-0.95],[683,0.62],[687,-0.80]
];

const ptsTail: P[] = [
[418,-1.11],[428,-1.01],[430,-0.88],[438,-1.22],[469,-1.32],[478,-1.25],[481,-0.87],[486,-0.99],[497,-1.53],[504,-0.94],[517,-1.34],[520,-1.06],[523,-1.00],[533,-1.42],[532,-1.49],[548,-1.32],[553,-1.27],[559,-1.40],[561,-1.29],[569,-1.37],[579,-1.54],[584,-1.57],[595,-1.37],[595,-1.89],[599,-1.87],[606,-1.32],[608,-1.49],[606,-1.95],[620,-2.12],[621,-1.32],[621,-1.43],[624,-1.87],[627,-1.44],[628,-1.61],[638,-1.68],[642,-2.23],[646,-1.44],[648,-1.49],[646,-1.55],[656,-1.81],[666,-1.79],[666,-1.51],[673,-1.44],[680,-1.62],[683,-1.66],[688,-1.59],[688,-1.74],[686,-1.83],[686,-1.17],[688,-1.26],[686,-1.32],[681,2.41]
];

const allPoints: P[] = [...ptsLeft, ...ptsMid, ...ptsDenseA, ...ptsDenseB, ...ptsDenseC, ...ptsFill, ...ptsFill2, ...ptsTail];

const SANS = "'Liberation Sans', Arial, Helvetica, sans-serif";
const SERIF = "'Liberation Serif', 'Times New Roman', serif";

export default function App() {
  const x = d3.scaleLinear().domain([0, 800]).range([176, 1126]);
  const y = d3.scaleLog().domain([1e-3, 1e4]).range([866, 37]);
  const [x0, x1] = x.range();
  const [yb, yt] = y.range();

  const yMinor: number[] = [];
  for (let e = -3; e < 4; e++) for (let k = 2; k <= 9; k++) yMinor.push(k * Math.pow(10, e));
  const xMinor = d3.range(0, 801, 20).filter((v) => v % 100 !== 0);
  const gridColor = "#b8b8b8";
  const axisColor = "#555";

  return (
    <svg width={1247} height={1003} style={{ position: "absolute", left: 0, top: 0, background: "#fff" }} fontFamily={SANS}>
      <rect x={0} y={0} width={1247} height={1003} fill="#fff" />
      {xTickValues.filter((v) => v > 0).map((v) => (
        <line key={"gx" + v} x1={x(v)} x2={x(v)} y1={yt} y2={yb} stroke={gridColor} strokeWidth={1.2} strokeDasharray="2,3" />
      ))}
      {yDecadeExps.filter((e) => e > -3).map((e) => (
        <line key={"gy" + e} x1={x0} x2={x1} y1={y(Math.pow(10, e))} y2={y(Math.pow(10, e))} stroke={gridColor} strokeWidth={1.2} strokeDasharray="2,3" />
      ))}
      <line x1={x0} x2={x1} y1={yt} y2={yt} stroke="#c4c4c4" strokeWidth={1.5} />
      <line x1={x0} x2={x0} y1={yt} y2={yb} stroke={axisColor} strokeWidth={1.5} />
      <line x1={x0} x2={x1} y1={yb} y2={yb} stroke={axisColor} strokeWidth={2} />
      {yDecadeExps.concat([4]).map((e) => (
        <line key={"ytm" + e} x1={x0} x2={x0 + 16} y1={y(Math.pow(10, e))} y2={y(Math.pow(10, e))} stroke={axisColor} strokeWidth={1.2} />
      ))}
      {yMinor.map((v, i) => (
        <line key={"ytn" + i} x1={x0} x2={x0 + 8} y1={y(v)} y2={y(v)} stroke={axisColor} strokeWidth={1} />
      ))}
      {xTickValues.map((v) => (
        <line key={"xtm" + v} x1={x(v)} x2={x(v)} y1={yb} y2={yb - 15} stroke={axisColor} strokeWidth={1.2} />
      ))}
      {xMinor.map((v) => (
        <line key={"xtn" + v} x1={x(v)} x2={x(v)} y1={yb} y2={yb - 8} stroke={axisColor} strokeWidth={1} />
      ))}
      <g fill="#ff2000">
        {allPoints.map((p, i) => (
          <circle key={i} cx={x(p[0])} cy={y(Math.pow(10, p[1]))} r={5.5} />
        ))}
      </g>
      {xTickValues.map((v) => {
        const s = String(v);
        return (
          <text key={"xl" + v} x={x(v)} y={918} textAnchor="middle" fontSize={32} textLength={s.length * 19} lengthAdjust="spacingAndGlyphs" fill="#111">
            {s}
          </text>
        );
      })}
      {yDecadeExps.map((e) => {
        const ty = y(Math.pow(10, e));
        if (e === 0)
          return (
            <text key={"yl" + e} x={139} y={ty + 12} textAnchor="end" fontSize={29} fill="#111">1</text>
          );
        if (e === 1)
          return (
            <text key={"yl" + e} x={142} y={ty + 11} textAnchor="end" fontSize={29} textLength={34} lengthAdjust="spacingAndGlyphs" fill="#111">10</text>
          );
        if (e > 1)
          return (
            <g key={"yl" + e} fill="#111">
              <text x={139} y={ty + 14} textAnchor="end" fontSize={29} textLength={34} lengthAdjust="spacingAndGlyphs">10</text>
              <text x={155} y={ty - 4} fontSize={21}>{String(e)}</text>
            </g>
          );
        return (
          <g key={"yl" + e} fill="#111">
            <text x={128} y={ty + 12} textAnchor="end" fontSize={29} textLength={34} lengthAdjust="spacingAndGlyphs">10</text>
            <text x={145} y={ty - 16} fontSize={21} textLength={22} lengthAdjust="spacingAndGlyphs">{String(e)}</text>
          </g>
        );
      })}
      <g transform="translate(68,403) rotate(-90) scale(1,1.18)" fill="#111">
        <text x={0} y={0} fontSize={44} textLength={60} lengthAdjust="spacingAndGlyphs">BR</text>
        <text x={68} y={0} fontSize={46} fontFamily={SERIF}>(</text>
        <text x={89} y={0} fontSize={44} fontFamily={SERIF}>μ</text>
        <text x={116} y={0} fontSize={44} textLength={54} lengthAdjust="spacingAndGlyphs">→</text>
        <text x={182} y={0} fontSize={44}>e</text>
        <text x={225} y={0} fontSize={42} fontFamily={SERIF}>γ</text>
        <text x={252} y={0} fontSize={46} fontFamily={SERIF}>)</text>
        <text x={287} y={0} fontSize={40} textLength={42} lengthAdjust="spacingAndGlyphs">10</text>
        <text x={331} y={-22} fontSize={27} textLength={32} lengthAdjust="spacingAndGlyphs">14</text>
      </g>
      <text x={1033} y={985} fontSize={46} textLength={42} lengthAdjust="spacingAndGlyphs" fill="#111">M</text>
      <text x={1077} y={997} fontSize={32} textLength={47} lengthAdjust="spacingAndGlyphs" fill="#111">1/2</text>
      <text x={805} y={46} fontSize={45} textLength={434} lengthAdjust="spacingAndGlyphs" fill="#000">A.M., Vempati,Vives</text>
      <g fill="#111">
        <text x={914} y={158} fontSize={34} textLength={58} lengthAdjust="spacingAndGlyphs">tan</text>
        <text x={982} y={158} fontSize={36} fontFamily={SERIF}>β</text>
        <text x={1016} y={158} fontSize={34} textLength={32} lengthAdjust="spacingAndGlyphs">=</text>
        <text x={1057} y={158} fontSize={34} textLength={51} lengthAdjust="spacingAndGlyphs">40</text>
        <text x={914} y={244} fontSize={38} fontFamily={SERIF}>μ</text>
        <text x={950} y={244} fontSize={34} textLength={23} lengthAdjust="spacingAndGlyphs">&gt;</text>
        <text x={987} y={245} fontSize={31} textLength={23} lengthAdjust="spacingAndGlyphs">0</text>
      </g>
    </svg>
  );
}
